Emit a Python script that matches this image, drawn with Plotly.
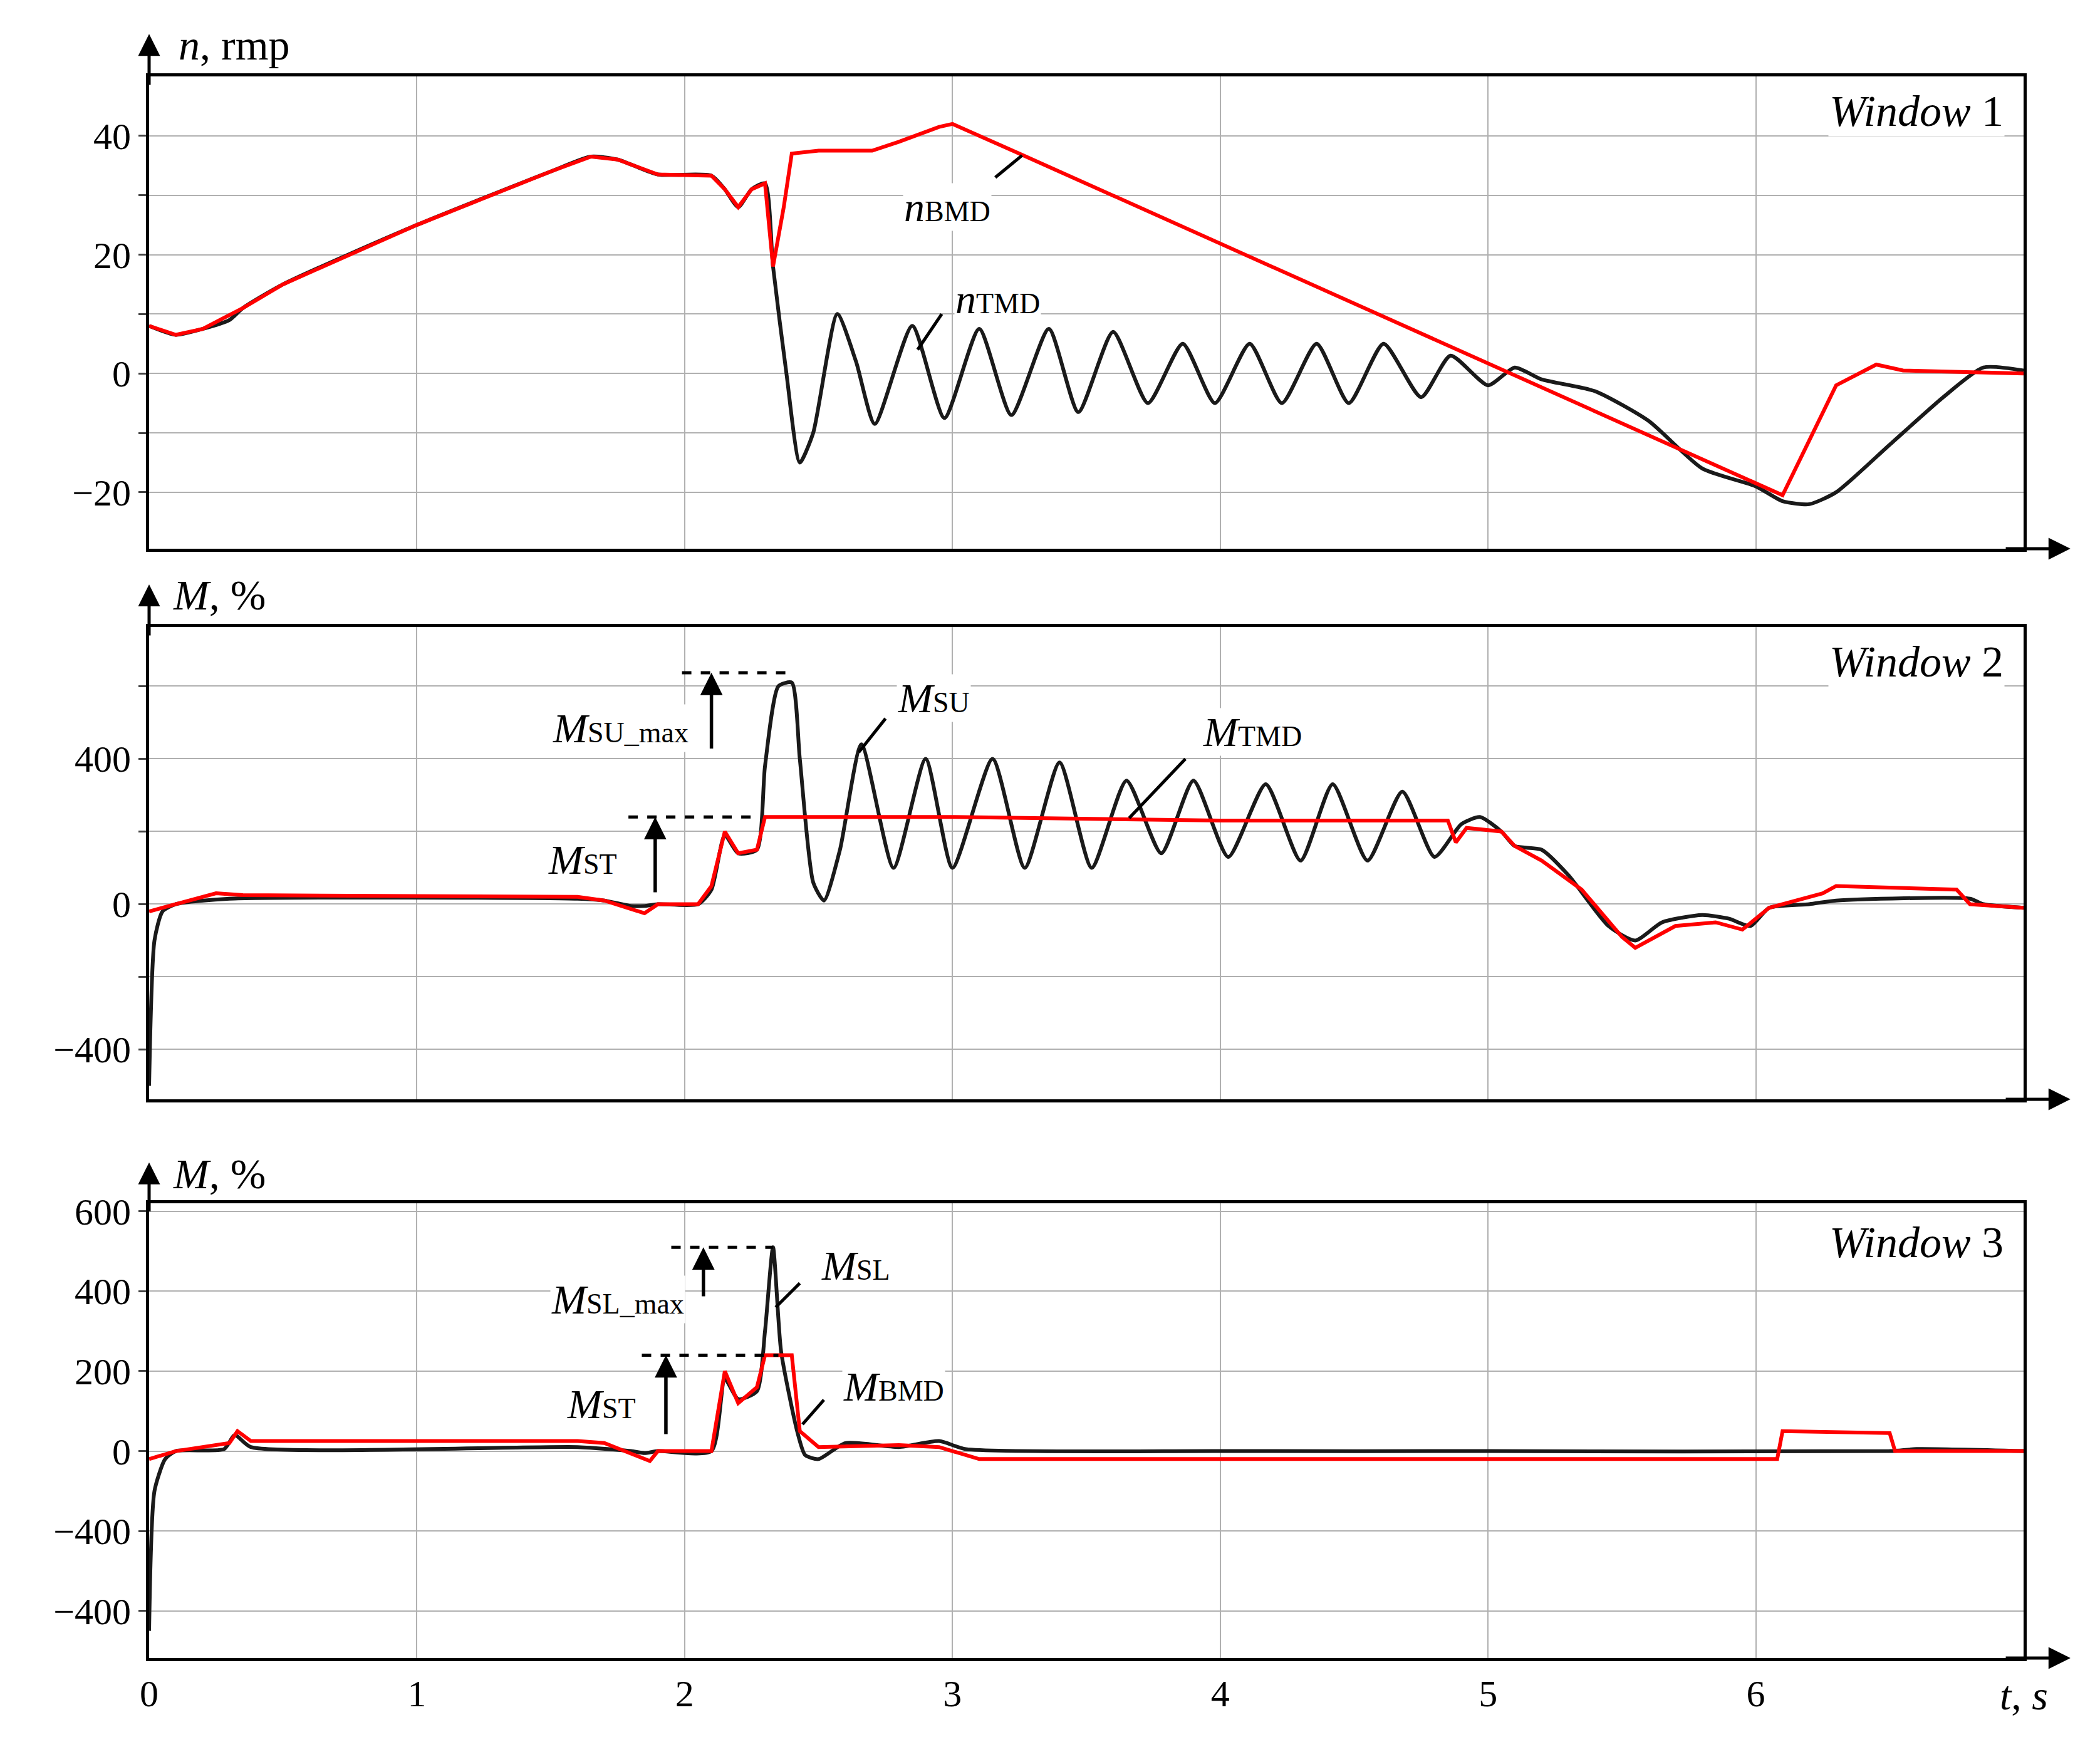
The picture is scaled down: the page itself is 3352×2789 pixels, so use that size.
import plotly.graph_objects as go

# --- datos ---
# Ventana 1: velocidad n (rpm)
t_n_tmd = [0, 0.1, 0.2, 0.3, 0.35, 0.5, 1.0, 1.5, 1.65, 1.75, 1.9, 2.1, 2.15, 2.2, 2.25, 2.3, 2.33, 2.38,
           2.43, 2.48, 2.57, 2.64, 2.71, 2.85, 2.97, 3.1, 3.22, 3.36, 3.47, 3.6, 3.73, 3.86, 3.98, 4.11,
           4.23, 4.36, 4.48, 4.61, 4.75, 4.86, 5.0, 5.1, 5.2, 5.4, 5.6, 5.8, 6.0, 6.1, 6.2, 6.3, 6.5,
           6.7, 6.85, 7.0]
n_tmd = [8, 6.5, 7.5, 9, 11, 15, 25, 34, 36.5, 36, 33.5, 33.3, 31, 28, 31, 32, 18, 0,
         -15, -10, 10, 2, -8.5, 8, -7.5, 7.5, -7, 7.5, -6.5, 7, -5, 5, -5, 5,
         -5, 5, -5, 5, -4, 3, -2, 1, -1, -3, -8, -16, -19, -21.5, -22, -20, -12,
         -4, 1, 0.5]
t_n_bmd = [0, 0.1, 0.2, 0.35, 0.5, 1.0, 1.5, 1.65, 1.75, 1.9, 2.1, 2.15, 2.2, 2.25, 2.3, 2.33, 2.37,
           2.4, 2.5, 2.7, 2.8, 2.95, 3.0, 3.1, 3.25, 6.1, 6.3, 6.45, 6.55, 7.0]
n_bmd = [8, 6.5, 7.5, 11, 15, 25, 34, 36.5, 36, 33.5, 33.3, 31, 28, 31, 32, 18, 28,
         37, 37.5, 37.5, 39, 41.5, 42, 40, 37, -20.5, -2, 1.5, 0.5, 0]

# Ventana 2: par M (%)
t_m_su = [0, 0.02, 0.05, 0.1, 0.3, 1.6, 1.7, 1.8, 1.85, 1.9, 2.05, 2.1, 2.15, 2.2, 2.27, 2.3, 2.35,
          2.4, 2.43, 2.48, 2.52, 2.58, 2.66, 2.78, 2.9, 3.0, 3.15, 3.27, 3.4, 3.52, 3.65, 3.78, 3.9,
          4.03, 4.17, 4.3, 4.42, 4.55, 4.68, 4.8, 4.9, 4.97, 5.05, 5.1, 5.2, 5.3, 5.45, 5.55, 5.65,
          5.8, 5.9, 5.98, 6.05, 6.2, 6.3, 6.8, 6.85, 7.0]
m_su = [-500, -100, -20, 0, 15, 15, 10, -5, -5, 0, 0, 40, 190, 140, 150, 380, 600,
        610, 400, 60, 10, 150, 440, 100, 400, 100, 400, 100, 390, 100, 340, 140, 340,
        130, 330, 120, 330, 120, 310, 130, 220, 240, 200, 160, 150, 80, -60, -100, -50,
        -30, -40, -60, -10, 0, 10, 15, 0, -10]
t_m_tmd = [0, 0.1, 0.25, 0.35, 1.6, 1.7, 1.8, 1.85, 1.9, 2.05, 2.1, 2.15, 2.2, 2.27, 2.3, 3.0, 4.0,
           4.85, 4.88, 4.92, 5.05, 5.1, 5.2, 5.35, 5.5, 5.55, 5.7, 5.85, 5.95, 6.05, 6.25, 6.3,
           6.75, 6.8, 7.0]
m_tmd = [-20, 0, 30, 25, 20, 10, -15, -25, 0, 0, 50, 200, 140, 150, 240, 240, 230,
         230, 170, 210, 200, 160, 120, 40, -90, -120, -60, -50, -70, -10, 30, 50,
         40, 0, -10]

# Ventana 3: par M (%)
t_m_sl = [0, 0.02, 0.06, 0.1, 0.28, 0.32, 0.38, 1.6, 1.8, 1.85, 1.9, 2.1, 2.15, 2.2, 2.27, 2.3,
          2.33, 2.36, 2.42, 2.45, 2.5, 2.6, 2.8, 2.95, 3.05, 4.0, 5.0, 6.5, 6.6, 7.0]
m_sl = [-450, -100, -20, 0, 5, 40, 10, 10, 0, -5, 0, 0, 180, 130, 150, 300,
        510, 250, 50, -10, -20, 20, 10, 25, 5, 0, 0, 0, 5, 0]
t_m_bmd = [0, 0.1, 0.3, 0.33, 0.38, 0.5, 1.6, 1.7, 1.8, 1.87, 1.9, 2.1, 2.15, 2.2, 2.27, 2.3, 2.4,
           2.43, 2.5, 2.8, 2.95, 3.1, 6.08, 6.1, 6.5, 6.52, 7.0]
m_bmd = [-20, 0, 20, 50, 25, 25, 25, 20, -5, -25, 0, 0, 200, 120, 160, 240, 240,
         50, 10, 15, 10, -20, -20, 50, 45, 0, 0]

x_ticks = [0, 1, 2, 3, 4, 5, 6]
w3_tickvals = [600, 400, 200, 0, -200, -400]
w3_ticktext = ["600", "400", "200", "0", "−400", "−400"]

SERIF = "Liberation Serif"
FS = 60
NEGRO = "#1a1a1a"
ROJO = "#ff0000"

fig = go.Figure()
series = [
    (t_n_tmd, n_tmd, NEGRO, "spline", "x", "y"),
    (t_n_bmd, n_bmd, ROJO, "linear", "x", "y"),
    (t_m_su, m_su, NEGRO, "spline", "x2", "y2"),
    (t_m_tmd, m_tmd, ROJO, "linear", "x2", "y2"),
    (t_m_sl, m_sl, NEGRO, "spline", "x3", "y3"),
    (t_m_bmd, m_bmd, ROJO, "linear", "x3", "y3"),
]
for tx, vy, col, shp, xa, ya in series:
    fig.add_trace(go.Scatter(x=tx, y=vy, mode="lines", xaxis=xa, yaxis=ya,
                             line=dict(color=col, width=6, shape=shp, smoothing=0.6),
                             showlegend=False))

dominios = [(0.7014, 1.0), (0.3533, 0.6519), (0.0, 0.2875)]
rangos = [(-29.5, 50), (-537, 763), (-518, 620)]
eje_x = dict(range=[0, 7], showgrid=True, gridcolor="#b0b0b0", gridwidth=2,
             showline=True, linecolor="black", linewidth=5, mirror=True,
             tickvals=x_ticks, zeroline=False)
eje_y = dict(showgrid=True, gridcolor="#b0b0b0", gridwidth=2, showline=True,
             linecolor="black", linewidth=5, mirror=True, zeroline=False,
             ticks="outside", ticklen=12, tickwidth=3)
lay = {}
for i in range(3):
    sx = "" if i == 0 else str(i + 1)
    xa = dict(eje_x, domain=[0, 1], anchor="y" + sx, showticklabels=(i == 2))
    if i > 0:
        xa["matches"] = "x"
    ya = dict(eje_y, domain=list(dominios[i]), anchor="x" + sx, range=list(rangos[i]))
    lay["xaxis" + sx] = xa
    lay["yaxis" + sx] = ya
lay["yaxis"].update(tickvals=[-20, -10, 0, 10, 20, 30, 40],
                    ticktext=["−20", "", "0", "", "20", "", "40"])
lay["yaxis2"].update(tickvals=[-400, -200, 0, 200, 400, 600],
                     ticktext=["−400", "", "0", "", "400", ""])
lay["yaxis3"].update(tickvals=w3_tickvals, ticktext=w3_ticktext)
fig.update_layout(**lay)

anots = []
shapes = []


def texto(x, y, txt, xr, yr, size=66, xanchor="center", bg=None):
    d = dict(x=x, y=y, xref=xr, yref=yr, text=txt, showarrow=False,
             font=dict(family=SERIF, size=size, color="black"), xanchor=xanchor)
    if bg:
        d["bgcolor"] = bg
    anots.append(d)


def linea(x0, y0, x1, y1, xr, yr, dash="solid"):
    shapes.append(dict(type="line", x0=x0, y0=y0, x1=x1, y1=y1, xref=xr, yref=yr,
                       line=dict(color="black", width=5, dash=dash)))


def flecha(x, y0, y1, xr, yr):
    anots.append(dict(x=x, y=y1, ax=x, ay=y0, xref=xr, yref=yr, axref=xr, ayref=yr,
                      text="", showarrow=True, arrowhead=2, arrowsize=1.3,
                      arrowwidth=5.5, arrowcolor="black"))


# flechas de ejes y títulos
for i in range(3):
    sx = "" if i == 0 else str(i + 1)
    xd, yd = "x" + sx + " domain", "y" + sx + " domain"
    anots.append(dict(x=0, y=1.09, ax=0, ay=0.98, xref=xd, yref=yd, axref=xd, ayref=yd,
                      text="", showarrow=True, arrowhead=2, arrowsize=1.4,
                      arrowwidth=5, arrowcolor="black"))
    anots.append(dict(x=1.025, y=0, ax=0.99, ay=0, xref=xd, yref=yd, axref=xd, ayref=yd,
                      text="", showarrow=True, arrowhead=2, arrowsize=1.4,
                      arrowwidth=5, arrowcolor="black"))
    texto(0.99, 0.98 if i != 2 else 0.97, "<i>Window</i> %d" % (i + 1), xd, yd,
          size=70, xanchor="right", bg="white")
texto(0.015, 1.12, "<i>n</i>, rmp", "x domain", "y domain", size=68, xanchor="left")
texto(0.012, 1.12, "<i>M</i>, %", "x2 domain", "y2 domain", size=68, xanchor="left")
texto(0.012, 1.12, "<i>M</i>, %", "x3 domain", "y3 domain", size=68, xanchor="left")
texto(1.0, -0.135, "<i>t</i>, <i>s</i>", "x3 domain", "y3 domain", size=66, xanchor="center")

SUB = "<span style='font-size:46px'>%s</span>"
# ventana 1
linea(3.16, 33, 3.26, 36.7, "x", "y")
texto(2.98, 28, "<i>n</i>" + SUB % "BMD", "x", "y", bg="white")
linea(2.87, 4, 2.96, 10, "x", "y")
texto(3.17, 12.5, "<i>n</i>" + SUB % "TMD", "x", "y", bg="white")
# ventana 2
linea(1.99, 637, 2.39, 637, "x2", "y2", "dash")
linea(1.79, 240, 2.28, 240, "x2", "y2", "dash")
flecha(2.1, 426, 637, "x2", "y2")
flecha(1.89, 30, 240, "x2", "y2")
texto(1.76, 485, "<i>M</i>" + SUB % "SU_max", "x2", "y2", bg="white")
texto(1.62, 122, "<i>M</i>" + SUB % "ST", "x2", "y2", bg="white")
linea(2.65, 418, 2.75, 511, "x2", "y2")
texto(2.93, 567, "<i>M</i>" + SUB % "SU", "x2", "y2", bg="white")
linea(3.66, 237, 3.87, 400, "x2", "y2")
texto(4.12, 474, "<i>M</i>" + SUB % "TMD", "x2", "y2", bg="white")
# ventana 3
linea(1.95, 510, 2.33, 510, "x3", "y3", "dash")
linea(1.84, 240, 2.35, 240, "x3", "y3", "dash")
flecha(2.07, 385, 510, "x3", "y3")
flecha(1.93, 40, 240, "x3", "y3")
texto(1.75, 380, "<i>M</i>" + SUB % "SL_max", "x3", "y3", bg="white")
texto(1.69, 118, "<i>M</i>" + SUB % "ST", "x3", "y3", bg="white")
linea(2.34, 360, 2.43, 420, "x3", "y3")
texto(2.64, 464, "<i>M</i>" + SUB % "SL", "x3", "y3", bg="white")
linea(2.44, 67, 2.52, 128, "x3", "y3")
texto(2.78, 161, "<i>M</i>" + SUB % "BMD", "x3", "y3", bg="white")

fig.update_layout(
    width=3352, height=2789,
    margin=dict(l=230, r=130, t=114, b=150),
    paper_bgcolor="white", plot_bgcolor="white",
    font=dict(family=SERIF, size=FS, color="black"),
    annotations=anots, shapes=shapes,
)

fig.write_html("out.html")
